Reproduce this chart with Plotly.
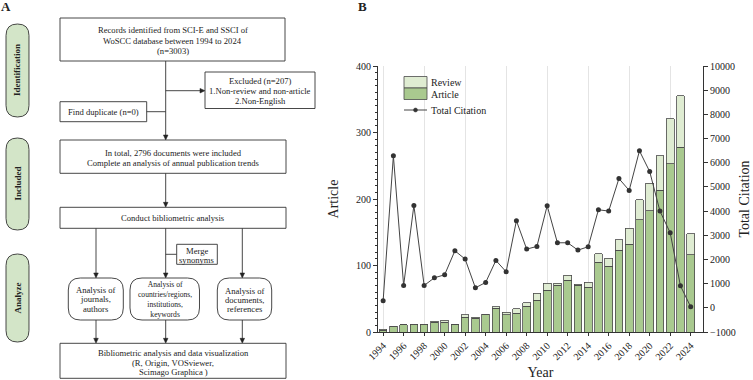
import plotly.graph_objects as go

# ---------------- data ----------------
years = list(range(1994, 2025))
article = [3, 8, 11, 11, 11, 15, 15, 12, 22, 21, 26, 36, 26, 28, 39, 48, 63, 70, 78, 70,
           67, 105, 99, 123, 132, 169, 182, 213, 253, 278, 116]
review = [1, 1, 0, 1, 1, 1, 3, 0, 4, 1, 1, 2, 4, 7, 5, 10, 10, 3, 7, 2,
          8, 13, 12, 16, 24, 30, 42, 52, 68, 77, 32]
citation = [290, 6285, 924, 4234, 924, 1241, 1366, 2359, 2014, 828, 1048, 1959, 1490, 3600,
            2428, 2538, 4221, 2690, 2690, 2386, 2524, 4055, 4000, 5345, 4855, 6492, 5635,
            4000, 3103, 910, 41]
tick_years = years[::2]
grid_years = years[::4]

W, H = 753, 380
FONT = "Liberation Serif"
ART_C = "#a9c98f"
REV_C = "#dfecd2"
EDGE = "#4a4a4a"
PILL_C = "#d3e5c8"
BOX_FS = 8.6


def px(x):
    return x / W


def py(y):
    return 1 - y / H


fig = go.Figure()
fig.add_trace(go.Bar(x=years, y=article, name="Article", width=0.75,
                     marker=dict(color=ART_C, line=dict(color=EDGE, width=0.8))))
fig.add_trace(go.Bar(x=years, y=review, name="Review", width=0.75,
                     marker=dict(color=REV_C, line=dict(color=EDGE, width=0.8))))
fig.add_trace(go.Scatter(x=years, y=citation, name="Total Citation", yaxis="y2",
                         mode="lines+markers",
                         line=dict(color="#444444", width=1),
                         marker=dict(color="#333333", size=5)))
# invisible trace to activate grid axis
fig.add_trace(go.Scatter(x=[years[0]], y=[0], xaxis="x3", yaxis="y",
                         mode="markers", marker=dict(opacity=0), showlegend=False,
                         hoverinfo="skip"))

xdom = [px(378), px(703)]
ydom = [py(332), py(66)]
tf = dict(family=FONT, size=10, color="#222")

fig.update_layout(
    width=W, height=H, barmode="stack", showlegend=False,
    margin=dict(l=0, r=0, t=0, b=0),
    paper_bgcolor="white", plot_bgcolor="white",
    font=dict(family=FONT, color="#222"),
    xaxis=dict(domain=xdom, anchor="y", range=[1993.5, 2025.2],
               tickmode="array", tickvals=tick_years, ticktext=[str(v) for v in tick_years],
               tickangle=-45, tickfont=tf, ticks="outside", ticklen=3, tickcolor="#333",
               showline=True, linecolor="#333", linewidth=1, showgrid=False,
               zeroline=False, automargin=False,
               title=dict(text="Year", font=dict(family=FONT, size=14), standoff=6)),
    xaxis3=dict(overlaying="x", anchor="y", range=[1993.5, 2025.2], tickmode="array",
                tickvals=grid_years, showticklabels=False, ticks="", showline=False,
                showgrid=True, gridcolor="#e4e4e4", gridwidth=1, zeroline=False,
                automargin=False),
    yaxis=dict(domain=ydom, anchor="x", range=[0, 400], dtick=100, tickfont=tf,
               ticks="outside", ticklen=4, tickcolor="#333",
               minor=dict(dtick=10, ticks="outside", ticklen=2, tickcolor="#333"),
               showline=True, linecolor="#333", linewidth=1, showgrid=False,
               zeroline=False, automargin=False,
               title=dict(text="Article", font=dict(family=FONT, size=14), standoff=14)),
    yaxis2=dict(overlaying="y", side="right", anchor="x", range=[-1000, 10000], dtick=1000,
                tickformat="d", tickfont=tf, ticks="outside", ticklen=4, tickcolor="#333",
                showline=True, linecolor="#333", linewidth=1, showgrid=False,
                zeroline=False, automargin=False,
                title=dict(text="Total Citation", font=dict(family=FONT, size=14), standoff=4)),
)

shapes = []
annots = []


def text(x, y, s, size=BOX_FS, bold=False, angle=0, anchor="center"):
    annots.append(dict(x=px(x), y=py(y), xref="paper", yref="paper", text=(f"<b>{s}</b>" if bold else s),
                       showarrow=False, xanchor=anchor, yanchor="middle", textangle=angle,
                       font=dict(family=FONT, size=size, color="#222")))


def box(x0, y0, x1, y1):
    shapes.append(dict(type="rect", xref="paper", yref="paper", x0=px(x0), x1=px(x1),
                       y0=py(y1), y1=py(y0), line=dict(color="#333", width=0.9),
                       fillcolor="white", layer="above"))


def rrect(x0, y0, x1, y1, r, fill="white"):
    P = lambda x, y: f"{px(x):.5f},{py(y):.5f}"
    d = (f"M {P(x0 + r, y0)} L {P(x1 - r, y0)} Q {P(x1, y0)} {P(x1, y0 + r)} "
         f"L {P(x1, y1 - r)} Q {P(x1, y1)} {P(x1 - r, y1)} L {P(x0 + r, y1)} "
         f"Q {P(x0, y1)} {P(x0, y1 - r)} L {P(x0, y0 + r)} Q {P(x0, y0)} {P(x0 + r, y0)} Z")
    shapes.append(dict(type="path", xref="paper", yref="paper", path=d,
                       line=dict(color="#333", width=0.9), fillcolor=fill, layer="above"))


def line(x0, y0, x1, y1):
    shapes.append(dict(type="line", xref="paper", yref="paper", x0=px(x0), y0=py(y0),
                       x1=px(x1), y1=py(y1), line=dict(color="#333", width=0.9), layer="above"))


def tri(pts):
    d = "M " + " L ".join(f"{px(a):.5f},{py(b):.5f}" for a, b in pts) + " Z"
    shapes.append(dict(type="path", xref="paper", yref="paper", path=d,
                       line=dict(color="#222", width=0.5), fillcolor="#222", layer="above"))


def arrow_down(x, y0, y1):
    line(x, y0, x, y1 - 4)
    tri([(x - 2.3, y1 - 5), (x + 2.3, y1 - 5), (x, y1)])


# panel labels
text(6, 7, "A", size=13, bold=True)
text(362, 7, "B", size=13, bold=True)

# side pills
for (a, b, lab) in [(24, 117, "Identification"), (138, 230, "Included"), (254, 342, "Analyze")]:
    rrect(6, a, 29, b, 11.5, fill=PILL_C)
    text(17.5, (a + b) / 2, lab, size=9, bold=True, angle=-90)

# flowchart
box(60, 18, 285, 61)
text(172.5, 30, "Records identified from SCI-E and SSCI of")
text(172.5, 40.5, "WoSCC database between 1994 to 2024")
text(172.5, 51, "(n=3003)")

arrow_down(165.7, 61, 140)
line(165.7, 90.7, 201, 90.7)
tri([(200, 88.4), (200, 93), (205, 90.7)])

box(205, 72, 315, 108.5)
text(260, 81, "Excluded (n=207)")
text(260, 91, "1.Non-review and non-article")
text(260, 101, "2.Non-English")

box(60, 101.7, 146.7, 121.7)
text(103.3, 111.7, "Find duplicate (n=0)")
line(146.7, 111.7, 165.7, 111.7)

box(60, 140, 286, 173.3)
text(173, 152.7, "In total, 2796 documents were included")
text(173, 162.7, "Complete an analysis of annual publication trends")

arrow_down(165.7, 173.3, 207.3)
box(60, 207.3, 286, 228.3)
text(173, 217.8, "Conduct bibliometric analysis")

for xc in (96, 165.7, 242.3):
    arrow_down(xc, 228.3, 278)
    arrow_down(xc, 320, 343.3)

line(165.7, 254.3, 176.7, 254.3)
box(176.7, 244.3, 217.3, 264.3)
text(197, 250.5, "Merge")
text(197, 259.5, "synonyms")

rrect(68.3, 278, 123.3, 320, 12)
text(95.8, 290, "Analysis of")
text(95.8, 299.3, "journals,")
text(95.8, 308.5, "authors")

rrect(130, 278, 199.5, 320, 12)
text(164.8, 299.3, "Analysis of<br>countries/regions,<br>institutions,<br>keywords", size=7.6)

rrect(217.3, 278, 271.7, 320, 12)
text(244.5, 291, "Analysis of")
text(244.5, 299.5, "documents,")
text(244.5, 308.5, "references")

box(60, 343.3, 286, 378.3)
text(173, 352.8, "Bibliometric analysis and data visualization")
text(173, 362.6, "(R, Origin, VOSviewer,")
text(173, 372.3, "Scimago Graphica )")

# custom legend for panel B
shapes.append(dict(type="rect", xref="paper", yref="paper", x0=px(404), x1=px(427),
                   y0=py(88), y1=py(76.5), fillcolor=REV_C, line=dict(color=EDGE, width=0.8)))
shapes.append(dict(type="rect", xref="paper", yref="paper", x0=px(404), x1=px(427),
                   y0=py(99.5), y1=py(88), fillcolor=ART_C, line=dict(color=EDGE, width=0.8)))
shapes.append(dict(type="line", xref="paper", yref="paper", x0=px(404), x1=px(427),
                   y0=py(110), y1=py(110), line=dict(color="#444", width=1)))
shapes.append(dict(type="circle", xref="paper", yref="paper", x0=px(413.5), x1=px(417.5),
                   y0=py(112), y1=py(108), fillcolor="#333", line=dict(color="#333", width=0.5)))
text(429, 82, "Review", size=10, anchor="left")
text(429, 94, "Article", size=10, anchor="left")
text(429, 110, "Total Citation", size=10, anchor="left")

fig.update_layout(shapes=shapes, annotations=annots)
fig.write_html("out.html", config={"displayModeBar": False},
               post_script="document.body.style.margin='0';document.body.style.padding='0';"
                           "document.documentElement.style.overflow='hidden';")
